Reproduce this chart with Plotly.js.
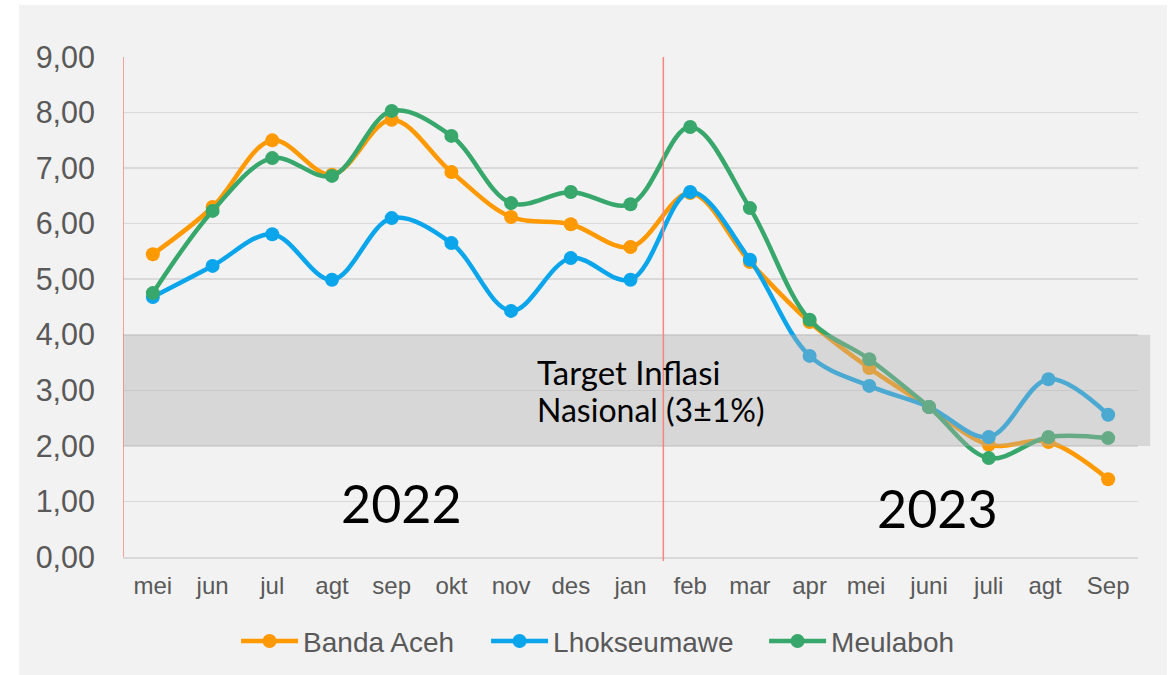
<!DOCTYPE html>
<html>
<head>
<meta charset="utf-8">
<script src="https://cdn.plot.ly/plotly-3.0.1.min.js"></script>
<style>
  html, body { margin:0; padding:0; background:#ffffff; width:1171px; height:675px; overflow:hidden; }
  #card { position:absolute; left:19px; top:5px; width:1148px; height:670px; background:#f2f2f2; }
  #chart { position:absolute; left:0; top:0; width:1171px; height:675px; }
</style>
</head>
<body>
<div id="card"></div>
<div id="chart"></div>
<script>
const months = ["mei","jun","jul","agt","sep","okt","nov","des","jan","feb","mar","apr","mei ","juni","juli","agt ","Sep"];
const bandaAceh   = [5.45,6.30,7.50,6.88,7.87,6.93,6.12,5.99,5.58,6.55,5.31,4.23,3.40,2.70,2.02,2.07,1.40];
const lhokseumawe = [4.68,5.24,5.81,4.99,6.10,5.65,4.43,5.38,4.99,6.57,5.35,3.62,3.08,2.70,2.16,3.20,2.56];
const meulaboh    = [4.75,6.23,7.18,6.86,8.03,7.58,6.37,6.57,6.35,7.74,6.28,4.27,3.56,2.70,1.78,2.16,2.14];
const seriesNames = ["Banda Aceh","Lhokseumawe","Meulaboh"];
const yearLabels = ["2022","2023"];
const targetLow = 2, targetHigh = 4;
const targetLines = ["Target Inflasi","Nasional (3±1%)"];

const colors = ["#ff9900","#0aa5ea","#38a76c"];
const legendNames = ["legend","legend2","legend3"];
const legendX = [0.1114, 0.3577, 0.6316];
const data = [bandaAceh, lhokseumawe, meulaboh].map((vals, i) => ({
  x: months, y: vals, name: seriesNames[i], type: "scatter", mode: "lines+markers",
  line: {color: colors[i], width: 4.5, shape: "spline", smoothing: 1},
  marker: {color: colors[i], size: 14},
  legend: legendNames[i],
  hoverinfo: "skip"
}));

const legendStyle = (x) => ({orientation: "h", x: x, xanchor: "left", yref: "container", y: 0.05, yanchor: "middle",
  font: {size: 28, color: "#595959"}, itemwidth: 57, bgcolor: "rgba(0,0,0,0)"});

const layout = {
  width: 1171, height: 675,
  paper_bgcolor: "rgba(0,0,0,0)", plot_bgcolor: "rgba(0,0,0,0)",
  margin: {l: 123, r: 33, t: 57, b: 118, autoexpand: false},
  separators: ",.",
  font: {family: "Liberation Sans, Arial, sans-serif", color: "#595959"},
  xaxis: {
    type: "category", range: [-0.5, 16.5], showgrid: false, zeroline: false,
    showline: true, linecolor: "#d9d9d9", linewidth: 1.5, automargin: false,
    ticks: "", tickfont: {size: 24, color: "#595959"}, ticklabelstandoff: 7
  },
  yaxis: {
    range: [0, 9], dtick: 1, tickformat: ".2f", showgrid: true, gridcolor: "#d9d9d9", gridwidth: 1.5,
    zeroline: false, showline: false, ticks: "", automargin: false,
    tickfont: {size: 30.5, color: "#595959"}, ticklabelstandoff: 27
  },
  showlegend: true,
  legend: legendStyle(legendX[0]),
  legend2: legendStyle(legendX[1]),
  legend3: legendStyle(legendX[2]),
  shapes: [
    {type: "rect", xref: "paper", yref: "y", x0: 0, x1: 1.012, y0: targetLow, y1: targetHigh,
     fillcolor: "rgba(175,175,175,0.4)", line: {width: 0}, layer: "above"},
    {type: "line", xref: "x", yref: "paper", x0: -0.5, x1: -0.5, y0: 0, y1: 1,
     line: {color: "#f4877f", width: 1.5}, layer: "above"},
    {type: "line", xref: "x", yref: "paper", x0: 8.55, x1: 8.55, y0: -0.008, y1: 1,
     line: {color: "#f4877f", width: 1.5}, layer: "above"}
  ],
  annotations: [
    {x: 6.4, y: 3.33, xref: "x", yref: "y", text: targetLines[0], showarrow: false, xanchor: "left", yanchor: "middle",
     align: "left", font: {family: "Lato, sans-serif", size: 33, color: "#000000"}},
    {x: 6.4, y: 2.65, xref: "x", yref: "y", text: targetLines[1], showarrow: false, xanchor: "left", yanchor: "middle",
     align: "left", font: {family: "Lato, sans-serif", size: 32, color: "#000000"}},
    {x: 4.17, y: 0.97, xref: "x", yref: "y", text: yearLabels[0], showarrow: false,
     font: {family: "Lato, sans-serif", size: 52, color: "#000000"}},
    {x: 13.15, y: 0.88, xref: "x", yref: "y", text: yearLabels[1], showarrow: false,
     font: {family: "Lato, sans-serif", size: 52, color: "#000000"}}
  ]
};

Plotly.newPlot("chart", data, layout, {displayModeBar: false, staticPlot: true});
</script>
</body>
</html>
